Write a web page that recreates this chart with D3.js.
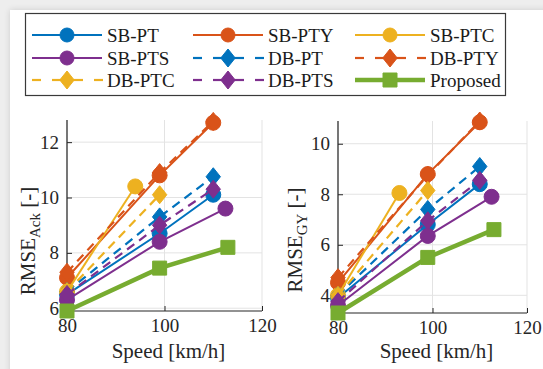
<!DOCTYPE html>
<html>
<head>
<meta charset="utf-8">
<script src="https://cdn.jsdelivr.net/npm/d3@7"></script>
<style>
  html, body { margin: 0; padding: 0; background: #eeeeee; }
  #wrap { position: absolute; left: 0; top: 0; width: 543px; height: 369px; overflow: hidden; }
  svg { display: block; }
</style>
</head>
<body>
<div id="wrap"></div>
<script>
// Series names in drawing order (later series are drawn on top)
const seriesNames = ["SB-PT", "SB-PTY", "SB-PTC", "SB-PTS", "DB-PT", "DB-PTY", "DB-PTC", "DB-PTS", "Proposed"];

// Speed at which each series was evaluated [km/h]
const speedSBPT  = [80, 99, 110];
const speedSBPTY = [80, 99, 110];
const speedSBPTC = [80, 94];
const speedSBPTS = [80, 99, 112.5];
const speedDBPT  = [80, 99, 110];
const speedDBPTY = [80, 99, 110];
const speedDBPTC = [80, 99];
const speedDBPTS = [80, 99, 110];
const speedProp  = [80, 99, 113];
const speedSBPTCgy = [80, 93];

// RMSE of the Ackermann error
const ackSBPT  = [6.5, 8.7, 10.1];
const ackSBPTY = [7.1, 10.8, 12.7];
const ackSBPTC = [6.6, 10.4];
const ackSBPTS = [6.3, 8.4, 9.6];
const ackDBPT  = [6.6, 9.3, 10.75];
const ackDBPTY = [7.3, 10.9, 12.75];
const ackDBPTC = [6.6, 10.1];
const ackDBPTS = [6.5, 9.0, 10.3];
const ackProp  = [5.9, 7.45, 8.2];

// RMSE of the yaw-rate gain
const gySBPT  = [3.9, 6.8, 8.4];
const gySBPTY = [4.5, 8.8, 10.85];
const gySBPTC = [4.0, 8.05];
const gySBPTS = [3.6, 6.35, 7.9];
const gyDBPT  = [4.0, 7.4, 9.1];
const gyDBPTY = [4.7, 8.75, 10.9];
const gyDBPTC = [4.0, 8.15];
const gyDBPTS = [3.75, 6.95, 8.55];
const gyProp  = [3.3, 5.5, 6.6];

const xTicks = [80, 100, 120];
const ackTicks = [6, 8, 10, 12];
const gyTicks = [4, 6, 8, 10];

// Style per series
const styles = {
  "SB-PT":    { color: "#0072BD", marker: "circle",  dash: null,  width: 2 },
  "SB-PTY":   { color: "#D95319", marker: "circle",  dash: null,  width: 2 },
  "SB-PTC":   { color: "#EDB120", marker: "circle",  dash: null,  width: 2 },
  "SB-PTS":   { color: "#7E2F8E", marker: "circle",  dash: null,  width: 2 },
  "DB-PT":    { color: "#0072BD", marker: "diamond", dash: "9,6", width: 2.2 },
  "DB-PTY":   { color: "#D95319", marker: "diamond", dash: "9,6", width: 2.2 },
  "DB-PTC":   { color: "#EDB120", marker: "diamond", dash: "9,6", width: 2.2 },
  "DB-PTS":   { color: "#7E2F8E", marker: "diamond", dash: "9,6", width: 2.2 },
  "Proposed": { color: "#77AC30", marker: "square",  dash: null,  width: 4.5 }
};

const ackSeries = [
  { name: "SB-PT",  x: speedSBPT,  y: ackSBPT },
  { name: "SB-PTY", x: speedSBPTY, y: ackSBPTY },
  { name: "SB-PTC", x: speedSBPTC, y: ackSBPTC },
  { name: "SB-PTS", x: speedSBPTS, y: ackSBPTS },
  { name: "DB-PT",  x: speedDBPT,  y: ackDBPT },
  { name: "DB-PTY", x: speedDBPTY, y: ackDBPTY },
  { name: "DB-PTC", x: speedDBPTC, y: ackDBPTC },
  { name: "DB-PTS", x: speedDBPTS, y: ackDBPTS },
  { name: "Proposed", x: speedProp, y: ackProp }
];
const gySeries = [
  { name: "SB-PT",  x: speedSBPT,  y: gySBPT },
  { name: "SB-PTY", x: speedSBPTY, y: gySBPTY },
  { name: "SB-PTC", x: speedSBPTCgy, y: gySBPTC },
  { name: "SB-PTS", x: speedSBPTS, y: gySBPTS },
  { name: "DB-PT",  x: speedDBPT,  y: gyDBPT },
  { name: "DB-PTY", x: speedDBPTY, y: gyDBPTY },
  { name: "DB-PTC", x: speedDBPTC, y: gyDBPTC },
  { name: "DB-PTS", x: speedDBPTS, y: gyDBPTS },
  { name: "Proposed", x: speedProp, y: gyProp }
];

const W = 543, H = 369;
const SERIF = '"Liberation Serif"';

const svg = d3.select("#wrap").append("svg").attr("width", W).attr("height", H);

// Figure canvas with a soft edge
const defs = svg.append("defs");
const sh = defs.append("filter").attr("id", "shadow").attr("x", "-5%").attr("y", "-5%").attr("width", "110%").attr("height", "110%");
sh.append("feGaussianBlur").attr("in", "SourceAlpha").attr("stdDeviation", 3);
sh.append("feComponentTransfer").append("feFuncA").attr("type", "linear").attr("slope", 0.15);
const mg = sh.append("feMerge");
mg.append("feMergeNode");
mg.append("feMergeNode").attr("in", "SourceGraphic");

svg.append("rect").attr("x", 10).attr("y", 10).attr("width", W + 20).attr("height", H + 20)
  .attr("fill", "#ffffff").attr("filter", "url(#shadow)");

function markerPath(type, size) {
  if (type === "circle") return d3.symbol(d3.symbolCircle, Math.PI * (size / 2) ** 2)();
  if (type === "square") return d3.symbol(d3.symbolSquare, size * size)();
  // diamond, a little taller than wide
  const h = size / 2, w = size * 0.4;
  return `M0,${-h}L${w},0L0,${h}L${-w},0Z`;
}

function serifText(sel, px) {
  return sel.style("font-family", SERIF).style("font-size", px + "px");
}

function drawPanel(cfg) {
  const x = d3.scaleLinear().domain([80, 120]).range([cfg.left, cfg.right]);
  const y = d3.scaleLinear().domain(cfg.yDomain).range([cfg.bottom, cfg.top]);
  const g = svg.append("g");

  // grid
  g.append("g").selectAll("line").data(xTicks).join("line")
    .attr("x1", d => x(d)).attr("x2", d => x(d))
    .attr("y1", cfg.top).attr("y2", cfg.bottom)
    .attr("stroke", "#e3e3e3").attr("stroke-width", 1);
  g.append("g").selectAll("line").data(cfg.yTicks).join("line")
    .attr("x1", cfg.left).attr("x2", cfg.right)
    .attr("y1", d => y(d)).attr("y2", d => y(d))
    .attr("stroke", "#e3e3e3").attr("stroke-width", 1);

  // axes (ticks inside)
  const xAxis = d3.axisBottom(x).tickValues(xTicks).tickSize(-5).tickPadding(8).tickFormat(d3.format("d"));
  const yAxis = d3.axisLeft(y).tickValues(cfg.yTicks).tickSize(-5).tickPadding(8).tickFormat(d3.format("d"));
  const ax = g.append("g").attr("transform", `translate(0,${cfg.bottom})`).call(xAxis);
  const ay = g.append("g").attr("transform", `translate(${cfg.left},0)`).call(yAxis);
  [ax, ay].forEach(a => {
    a.attr("font-family", null).attr("font-size", null);
    a.select(".domain").attr("stroke", "#262626").attr("stroke-width", 1.2);
    a.selectAll(".tick line").attr("stroke", "#262626");
    serifText(a.selectAll("text"), 19).attr("fill", "#262626");
  });
  ax.select(".domain").attr("d", `M${cfg.left},0H${cfg.right}`);
  ay.select(".domain").attr("d", `M0,${cfg.bottom}V${cfg.top}`);

  // series
  const line = d3.line().x(d => x(d[0])).y(d => y(d[1]));
  const sg = g.append("g");
  cfg.series.forEach(s => {
    const st = styles[s.name];
    const pts = s.x.map((v, i) => [v, s.y[i]]);
    const grp = sg.append("g");
    grp.append("path").datum(pts).attr("d", line)
      .attr("fill", "none").attr("stroke", st.color).attr("stroke-width", st.width)
      .attr("stroke-dasharray", st.dash);
    const size = st.marker === "diamond" ? 18 : (st.marker === "square" ? 14 : 15);
    grp.selectAll("path.m").data(pts).join("path").attr("class", "m")
      .attr("transform", d => `translate(${x(d[0])},${y(d[1])})`)
      .attr("d", markerPath(st.marker, size))
      .attr("fill", st.color).attr("stroke", st.color).attr("stroke-width", 1);
  });

  // x label
  serifText(g.append("text"), 21).attr("x", (cfg.left + cfg.right) / 2 + 4).attr("y", 358)
    .attr("text-anchor", "middle").attr("fill", "#262626").text("Speed [km/h]");

  // y label
  const yl = serifText(g.append("text"), 21)
    .attr("transform", `translate(${cfg.ylabelX},${cfg.ylabelY}) rotate(-90)`)
    .attr("text-anchor", "middle").attr("fill", "#262626");
  yl.append("tspan").text("RMSE");
  yl.append("tspan").style("font-size", "15px").attr("dy", 5).text(cfg.sub);
  yl.append("tspan").attr("dy", -5).text(" [-]");
}

drawPanel({ left: 67, right: 262, top: 120, bottom: 311, yDomain: [5.9, 12.8], yTicks: ackTicks,
  series: ackSeries, sub: "Ack", ylabelX: 35, ylabelY: 241 });
drawPanel({ left: 338, right: 527, top: 121, bottom: 313, yDomain: [3.3, 10.9], yTicks: gyTicks,
  series: gySeries, sub: "GY", ylabelX: 302, ylabelY: 240 });

// legend
const leg = svg.append("g");
leg.append("rect").attr("x", 25.5).attr("y", 13.5).attr("width", 480).attr("height", 82)
  .attr("fill", "#ffffff").attr("stroke", "#3a3a3a").attr("stroke-width", 1.2);
const colX = [32, 193, 355];
const rowY = [35, 58, 80];
seriesNames.forEach((name, i) => {
  const st = styles[name];
  const cx = colX[i % 3], cy = rowY[Math.floor(i / 3)];
  const lg = leg.append("g");
  if (st.dash) {
    // dashed sample: two dashes either side of the marker
    [[cx, cx + 9], [cx + 20, cx + 30], [cx + 41, cx + 51], [cx + 62, cx + 71]].forEach(seg => {
      lg.append("line").attr("x1", seg[0]).attr("x2", seg[1]).attr("y1", cy).attr("y2", cy)
        .attr("stroke", st.color).attr("stroke-width", 2.2);
    });
  } else {
    lg.append("line").attr("x1", cx).attr("x2", cx + 70).attr("y1", cy).attr("y2", cy)
      .attr("stroke", st.color).attr("stroke-width", st.width);
  }
  const size = st.marker === "diamond" ? 18 : 14;
  lg.append("path").attr("transform", `translate(${cx + 35},${cy})`)
    .attr("d", markerPath(st.marker, size)).attr("fill", st.color).attr("stroke", st.color);
  serifText(lg.append("text"), 19).attr("x", cx + 75).attr("y", cy + 6.5)
    .attr("fill", "#1a1a1a").text(name);
});
</script>
</body>
</html>
